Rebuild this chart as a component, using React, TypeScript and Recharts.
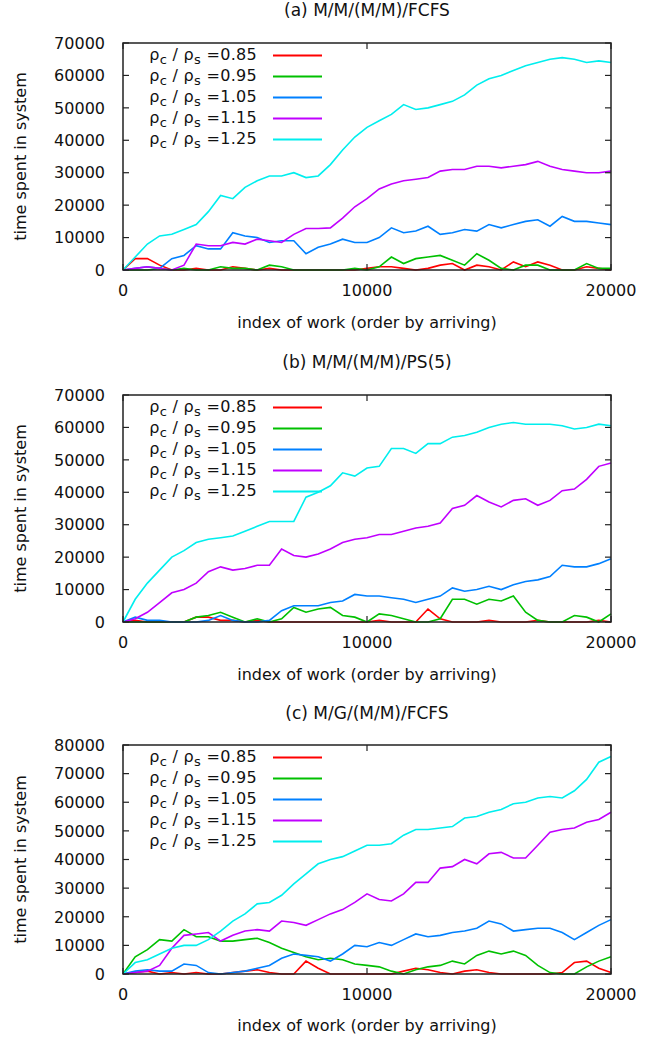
import React from 'react';
import { LineChart, Line, XAxis, YAxis, Legend } from 'recharts';

// ---------- data ----------
const WORK_INDEX = [
  0, 500, 1000, 1500, 2000, 2500, 3000, 3500, 4000, 4500,
  5000, 5500, 6000, 6500, 7000, 7500, 8000, 8500, 9000, 9500,
  10000, 10500, 11000, 11500, 12000, 12500, 13000, 13500, 14000, 14500,
  15000, 15500, 16000, 16500, 17000, 17500, 18000, 18500, 19000, 19500, 20000,
];
const RATIOS = ['0.85', '0.95', '1.05', '1.15', '1.25'];
const COLORS = ['#ff0000', '#00c000', '#0080ff', '#c000ff', '#00eeee'];
const X_TICKS = [0, 10000, 20000];
const Y_TICKS_70K = [0, 10000, 20000, 30000, 40000, 50000, 60000, 70000];
const Y_TICKS_80K = [0, 10000, 20000, 30000, 40000, 50000, 60000, 70000, 80000];
const TITLES = ['(a) M/M/(M/M)/FCFS', '(b) M/M/(M/M)/PS(5)', '(c) M/G/(M/M)/FCFS'];
const X_LABEL = 'index of work (order by arriving)';
const Y_LABEL = 'time spent in system';

// (a) M/M/(M/M)/FCFS
const A_085 = [0, 3500, 3500, 1500, 0, 0, 500, 0, 0, 1000, 500, 0, 500, 0, 0, 0, 0, 0, 0, 0, 500, 1000, 1000, 500, 0, 500, 1500, 2000, 0, 1500, 1000, 0, 2500, 1000, 2500, 1500, 0, 0, 1000, 500, 0];
const A_095 = [0, 0, 0, 500, 0, 500, 0, 0, 1000, 500, 500, 0, 1500, 1000, 0, 0, 0, 0, 0, 500, 0, 1000, 4000, 2000, 3500, 4000, 4500, 3000, 1500, 5000, 3000, 500, 0, 1500, 1500, 0, 0, 0, 2000, 500, 500];
const A_105 = [0, 500, 1000, 500, 3500, 4500, 7500, 6500, 6500, 11500, 10500, 10000, 8500, 9000, 9000, 5000, 7000, 8000, 9500, 8500, 8500, 10000, 13000, 11500, 12000, 13500, 11000, 11500, 12500, 12000, 14000, 13000, 14000, 15000, 15500, 13500, 16500, 15000, 15000, 14500, 14000];
const A_115 = [0, 500, 1000, 500, 0, 1500, 8000, 7500, 7500, 8500, 8000, 9500, 9000, 8500, 11000, 12800, 12800, 13000, 16000, 19500, 22000, 25000, 26500, 27500, 28000, 28500, 30500, 31000, 31000, 32000, 32000, 31500, 32000, 32500, 33500, 32000, 31000, 30500, 30000, 30000, 30500];
const A_125 = [0, 4000, 8000, 10500, 11000, 12500, 14000, 18000, 23000, 22000, 25500, 27500, 29000, 29000, 30000, 28500, 29000, 32500, 37000, 41000, 44000, 46000, 48000, 51000, 49500, 50000, 51000, 52000, 54000, 57000, 59000, 60000, 61500, 63000, 64000, 65000, 65500, 65000, 64000, 64500, 64000];

// (b) M/M/(M/M)/PS(5)
const B_085 = [0, 500, 0, 0, 0, 0, 1500, 1500, 500, 500, 0, 500, 0, 0, 0, 0, 0, 0, 0, 0, 0, 500, 0, 0, 0, 4000, 1000, 0, 0, 0, 500, 0, 0, 0, 500, 0, 0, 0, 0, 500, 0];
const B_095 = [0, 0, 0, 0, 0, 0, 1500, 2000, 3000, 1500, 0, 1000, 0, 1000, 4500, 3000, 4000, 4500, 2000, 1500, 0, 2500, 2000, 1000, 0, 0, 1000, 7000, 7000, 5500, 7000, 6500, 8000, 3000, 500, 0, 0, 2000, 1500, 0, 2500];
const B_105 = [0, 1500, 500, 500, 0, 0, 0, 500, 2000, 500, 0, 0, 500, 3500, 5000, 5000, 5000, 6000, 6500, 8500, 8000, 8000, 7500, 7000, 6000, 7000, 8000, 10500, 9500, 10000, 11000, 10000, 11500, 12500, 13000, 14000, 17500, 17000, 17000, 18000, 19500];
const B_115 = [0, 1000, 3000, 6000, 9000, 10000, 12000, 15500, 17000, 16000, 16500, 17500, 17500, 22500, 20500, 20000, 21000, 22500, 24500, 25500, 26000, 27000, 27000, 28000, 29000, 29500, 30500, 35000, 36000, 39000, 37000, 35500, 37500, 38000, 36000, 37500, 40500, 41000, 44000, 48000, 49000];
const B_125 = [0, 7000, 12000, 16000, 20000, 22000, 24500, 25500, 26000, 26500, 28000, 29500, 31000, 31000, 31000, 38500, 40000, 42000, 46000, 45000, 47500, 48000, 53500, 53500, 52000, 55000, 55000, 57000, 57500, 58500, 60000, 61000, 61500, 61000, 61000, 61000, 60500, 59500, 60000, 61000, 60500];

// (c) M/G/(M/M)/FCFS
const C_085 = [0, 500, 1000, 0, 500, 0, 500, 0, 0, 500, 1000, 1500, 500, 0, 0, 4500, 2000, 0, 0, 0, 0, 0, 0, 1000, 2000, 1500, 500, 0, 1000, 1500, 500, 0, 0, 0, 0, 0, 500, 4000, 4500, 2000, 500];
const C_095 = [0, 6000, 8500, 12000, 11500, 15500, 13000, 13000, 11500, 11500, 12000, 12500, 11000, 9000, 7500, 6000, 5000, 5500, 5000, 3500, 3000, 2500, 1000, 0, 1500, 2500, 3000, 4500, 3500, 6500, 8000, 7000, 8000, 6500, 3000, 500, 0, 0, 2500, 4500, 6000];
const C_105 = [0, 1000, 1500, 1000, 1000, 3500, 3000, 500, 0, 500, 1000, 2000, 3000, 5500, 7000, 6500, 6000, 4500, 7000, 10000, 9500, 11000, 10000, 12000, 14000, 13000, 13500, 14500, 15000, 16000, 18500, 17500, 15000, 15500, 16000, 16000, 14500, 12000, 14500, 17000, 19000];
const C_115 = [0, 500, 1000, 3000, 9000, 13500, 14000, 14500, 11500, 13500, 15000, 15500, 15000, 18500, 18000, 17000, 19000, 21000, 22500, 25000, 28000, 26000, 25500, 28000, 32000, 32000, 37000, 37500, 40000, 38500, 42000, 42500, 40500, 40500, 45000, 49500, 50500, 51000, 53000, 54000, 56500];
const C_125 = [0, 4000, 5000, 7000, 9000, 10000, 10000, 12000, 15000, 18500, 21000, 24500, 25000, 27500, 31500, 35000, 38500, 40000, 41000, 43000, 45000, 45000, 45500, 48500, 50500, 50500, 51000, 51500, 54500, 55000, 56500, 57500, 59500, 60000, 61500, 62000, 61500, 64000, 68000, 74000, 76000];

const PANEL_A = [A_085, A_095, A_105, A_115, A_125];
const PANEL_B = [B_085, B_095, B_105, B_115, B_125];
const PANEL_C = [C_085, C_095, C_105, C_115, C_125];

function buildRows(series: number[][]) {
  return WORK_INDEX.map((x, i) => {
    const row: Record<string, number> = { x };
    series.forEach((s, k) => {
      row['s' + k] = s[i];
    });
    return row;
  });
}

// ---------- layout ----------
const W = 662;
const H = 352;
const PLOT_LEFT = 123;
const PLOT_RIGHT = 611;
const FONT = '"DejaVu Sans", Verdana, sans-serif';
const TEXT = '#111';
const AXIS = '#222';

type PanelProps = {
  title: string;
  series: number[][];
  yMax: number;
  yTicks: number[];
  top: number;
  plotTop: number;
  plotBottom: number;
};

function LegendBox({ payload }: any) {
  const items = (payload || []) as any[];
  return (
    <div style={{ fontFamily: FONT, color: TEXT }}>
      {items.map((it, i) => (
        <div key={i} style={{ display: 'flex', alignItems: 'center', height: 21 }}>
          <div style={{ width: 118, textAlign: 'right', fontSize: 16, whiteSpace: 'nowrap', lineHeight: '21px', letterSpacing: 0.3 }}>
            ρ<span style={{ fontSize: 13, position: 'relative', top: 4 }}>c</span> / ρ
            <span style={{ fontSize: 13, position: 'relative', top: 4 }}>s</span> ={it.value}
          </div>
          <svg width={68} height={21} style={{ display: 'block' }}>
            <line x1={16} x2={65} y1={10.5} y2={10.5} stroke={it.color} strokeWidth={2} />
          </svg>
        </div>
      ))}
    </div>
  );
}

function Panel({ title, series, yMax, yTicks, top, plotTop, plotBottom }: PanelProps) {
  const rows = buildRows(series);
  const localTop = plotTop - top;
  const localBottom = plotBottom - top;
  const xAxisH = H - localBottom;

  const leftTick = (p: any) => (
    <g>
      <text x={PLOT_LEFT - 18} y={p.y} dy="0.36em" textAnchor="end" fontSize={16} fill={TEXT} fontFamily={FONT}>
        {p.payload.value}
      </text>
      <line x1={PLOT_LEFT} x2={PLOT_LEFT + 6} y1={p.y} y2={p.y} stroke={AXIS} strokeWidth={1.2} />
      <line x1={PLOT_RIGHT - 6} x2={PLOT_RIGHT} y1={p.y} y2={p.y} stroke={AXIS} strokeWidth={1.2} />
    </g>
  );
  const bottomTick = (p: any) => (
    <g>
      <text x={p.x} y={localBottom + 26} textAnchor="middle" fontSize={16} fill={TEXT} fontFamily={FONT}>
        {p.payload.value}
      </text>
      <line x1={p.x} x2={p.x} y1={localBottom} y2={localBottom - 6} stroke={AXIS} strokeWidth={1.2} />
      <line x1={p.x} x2={p.x} y1={localTop} y2={localTop + 6} stroke={AXIS} strokeWidth={1.2} />
    </g>
  );

  return (
    <div style={{ position: 'absolute', left: 0, top, width: W, height: H }}>
      <div
        style={{
          position: 'absolute',
          left: PLOT_LEFT,
          width: PLOT_RIGHT - PLOT_LEFT,
          top: 0,
          textAlign: 'center',
          fontFamily: FONT,
          fontSize: 17,
          lineHeight: '21px',
          color: TEXT,
          whiteSpace: 'nowrap',
        }}
      >
        {title}
      </div>
      <LineChart
        width={W}
        height={H}
        data={rows}
        margin={{ top: localTop, right: W - PLOT_RIGHT, bottom: 0, left: 0 }}
      >
        <XAxis
          xAxisId="bottom"
          dataKey="x"
          type="number"
          domain={[0, 20000]}
          ticks={X_TICKS}
          height={xAxisH}
          tickLine={false}
          tick={bottomTick}
          axisLine={false}
          interval={0}
          label={{
            value: X_LABEL,
            position: 'insideBottom',
            offset: 24,
            style: { fontFamily: FONT, fontSize: 16, fill: TEXT },
          }}
        />
        <YAxis
          yAxisId="left"
          type="number"
          domain={[0, yMax]}
          ticks={yTicks}
          width={PLOT_LEFT}
          tickLine={false}
          tick={leftTick}
          axisLine={false}
          interval={0}
          label={{
            value: Y_LABEL,
            angle: -90,
            position: 'insideLeft',
            offset: 20,
            style: { fontFamily: FONT, fontSize: 16, fill: TEXT, textAnchor: 'middle' },
          }}
        />
        <Legend
          layout="vertical"
          align="center"
          verticalAlign="middle"
          content={<LegendBox />}
          wrapperStyle={{ position: 'absolute', left: 139, top: localTop + 1.5, width: 190 }}
        />
        {series.map((_, k) => (
          <Line
            key={k}
            xAxisId="bottom"
            yAxisId="left"
            dataKey={'s' + k}
            name={RATIOS[k]}
            type="linear"
            stroke={COLORS[k]}
            strokeWidth={1.6}
            dot={false}
            activeDot={false}
            isAnimationActive={false}
          />
        ))}
      </LineChart>
      {/* gnuplot-style plot border */}
      <svg width={W} height={H} style={{ position: 'absolute', left: 0, top: 0, pointerEvents: 'none' }}>
        <rect
          x={PLOT_LEFT}
          y={localTop}
          width={PLOT_RIGHT - PLOT_LEFT}
          height={localBottom - localTop}
          fill="none"
          stroke={AXIS}
          strokeWidth={1.5}
        />
      </svg>
    </div>
  );
}

export default function App() {
  return (
    <div style={{ position: 'absolute', left: 0, top: 0, width: W, height: 1038, background: '#fff', overflow: 'hidden' }}>
      <Panel title={TITLES[0]} series={PANEL_A} yMax={70000} yTicks={Y_TICKS_70K} top={0} plotTop={43} plotBottom={270} />
      <Panel title={TITLES[1]} series={PANEL_B} yMax={70000} yTicks={Y_TICKS_70K} top={352} plotTop={395} plotBottom={622} />
      <Panel title={TITLES[2]} series={PANEL_C} yMax={80000} yTicks={Y_TICKS_80K} top={703} plotTop={745} plotBottom={974} />
    </div>
  );
}
